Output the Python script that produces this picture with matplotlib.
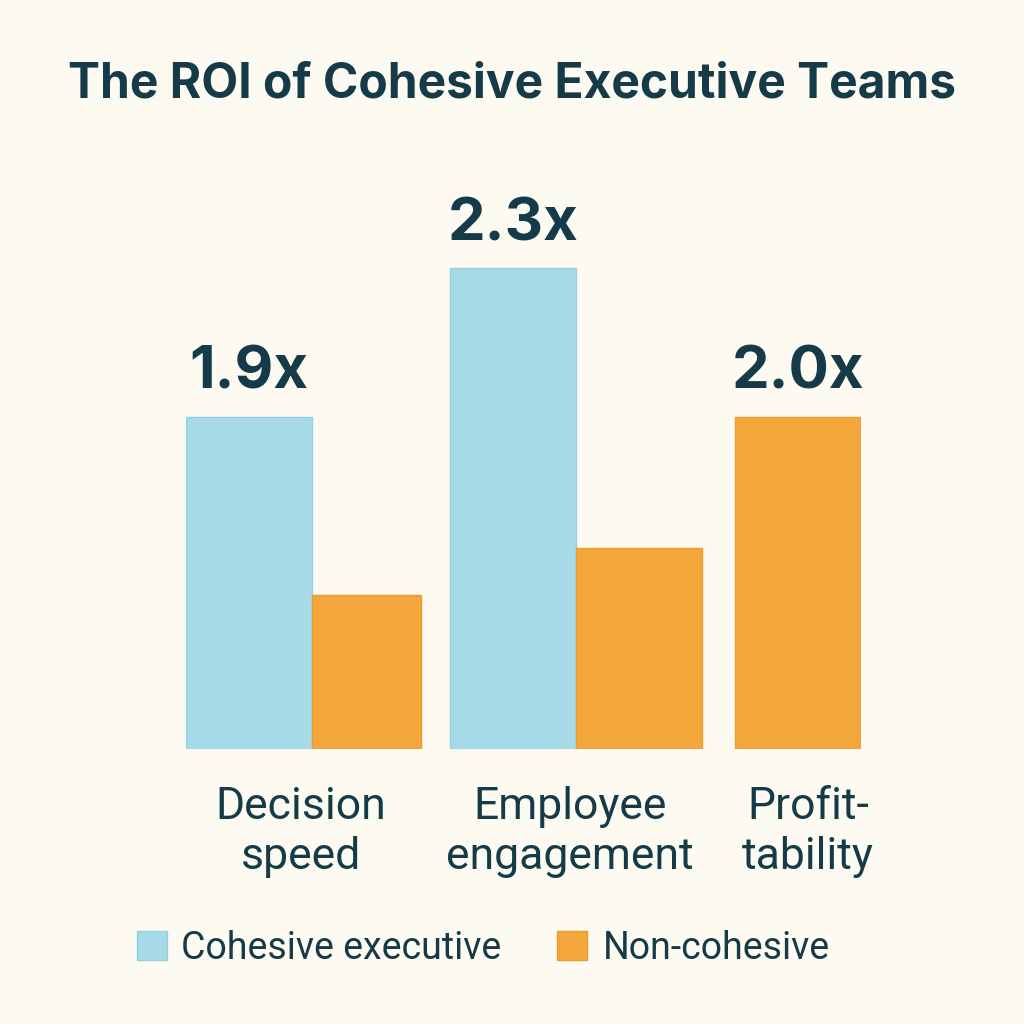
import numpy as np
import matplotlib
matplotlib.use("Agg")
import matplotlib.pyplot as plt
from matplotlib.patches import Rectangle
from matplotlib.transforms import blended_transform_factory

# data (bar heights, in relative units)
categories = ["Decision\nspeed", "Employee\nengagement", "Profit-\ntability"]
cohesive = [1.9, 2.75, np.nan]
non_cohesive = [0.88, 1.15, 1.9]
value_labels = ["1.9x", "2.3x", "2.0x"]
series_names = ["Cohesive executive", "Non-cohesive"]

# layout
group_x = [1.0, 3.1, 4.36]        # edge between the two bars of each group
orange_w = [0.87, 1.0, 1.0]
label_x = [0.91, 3.05, 4.94]
label_on = ["c", "c", "n"]       # which bar carries the value label

BG = "#FDFAF2"
TXT = "#163B48"
CYAN = "#A6DAE6"
ORANGE = "#F3A73B"

fig = plt.figure(figsize=(10.24, 10.24), dpi=100, facecolor=BG)
W = H = 1024.0
ax = fig.add_axes([186 / W, 1 - 749 / H, 675 / W, 600 / H])
ax.set_facecolor(BG)
ax.set_xlim(0, 5.36)
ax.set_ylim(0, 3.43)
ax.axis("off")

for i in range(len(categories)):
    if not np.isnan(cohesive[i]):
        ax.bar(group_x[i] - 1.0, cohesive[i], width=1.0, align="edge",
               color=CYAN, edgecolor="#93D1E0", linewidth=1)
    ax.bar(group_x[i], non_cohesive[i], width=orange_w[i], align="edge",
           color=ORANGE, edgecolor="#EC9B2E", linewidth=1)
    if label_on[i] == "c":
        xc, top = group_x[i] - 0.5, cohesive[i]
    else:
        xc, top = group_x[i] + orange_w[i] / 2, non_cohesive[i]
    ax.annotate(value_labels[i], (xc, top), xytext=(0, 20), textcoords="offset points",
                ha="center", va="baseline", fontsize=43, fontweight="bold",
                family="Inter", color=TXT)

tr = blended_transform_factory(ax.transData, ax.transAxes)
for i, c in enumerate(categories):
    ax.text(label_x[i], -0.062, c, transform=tr, ha="center", va="top",
            fontsize=32, family="Roboto", color=TXT, linespacing=1.25)

fig.text(0.5, 1 - 97 / H, "The ROI of Cohesive Executive Teams", ha="center",
         va="baseline", fontsize=34.5, fontweight="bold", family="Inter", color=TXT)

# legend
cols = [CYAN, ORANGE]
edges = ["#93D1E0", "#EC9B2E"]
sq_x = [137, 557]
tx_x = [181, 603]
for k in range(2):
    fig.patches.append(Rectangle((sq_x[k] / W, 1 - 960 / H), 30 / W, 29 / H,
                                 transform=fig.transFigure, facecolor=cols[k],
                                 edgecolor=edges[k], linewidth=1))
    fig.text(tx_x[k] / W, 1 - 959 / H, series_names[k], ha="left", va="baseline",
             fontsize=27, family="Roboto", color=TXT)

fig.savefig("out.png", dpi=100, facecolor=BG)
